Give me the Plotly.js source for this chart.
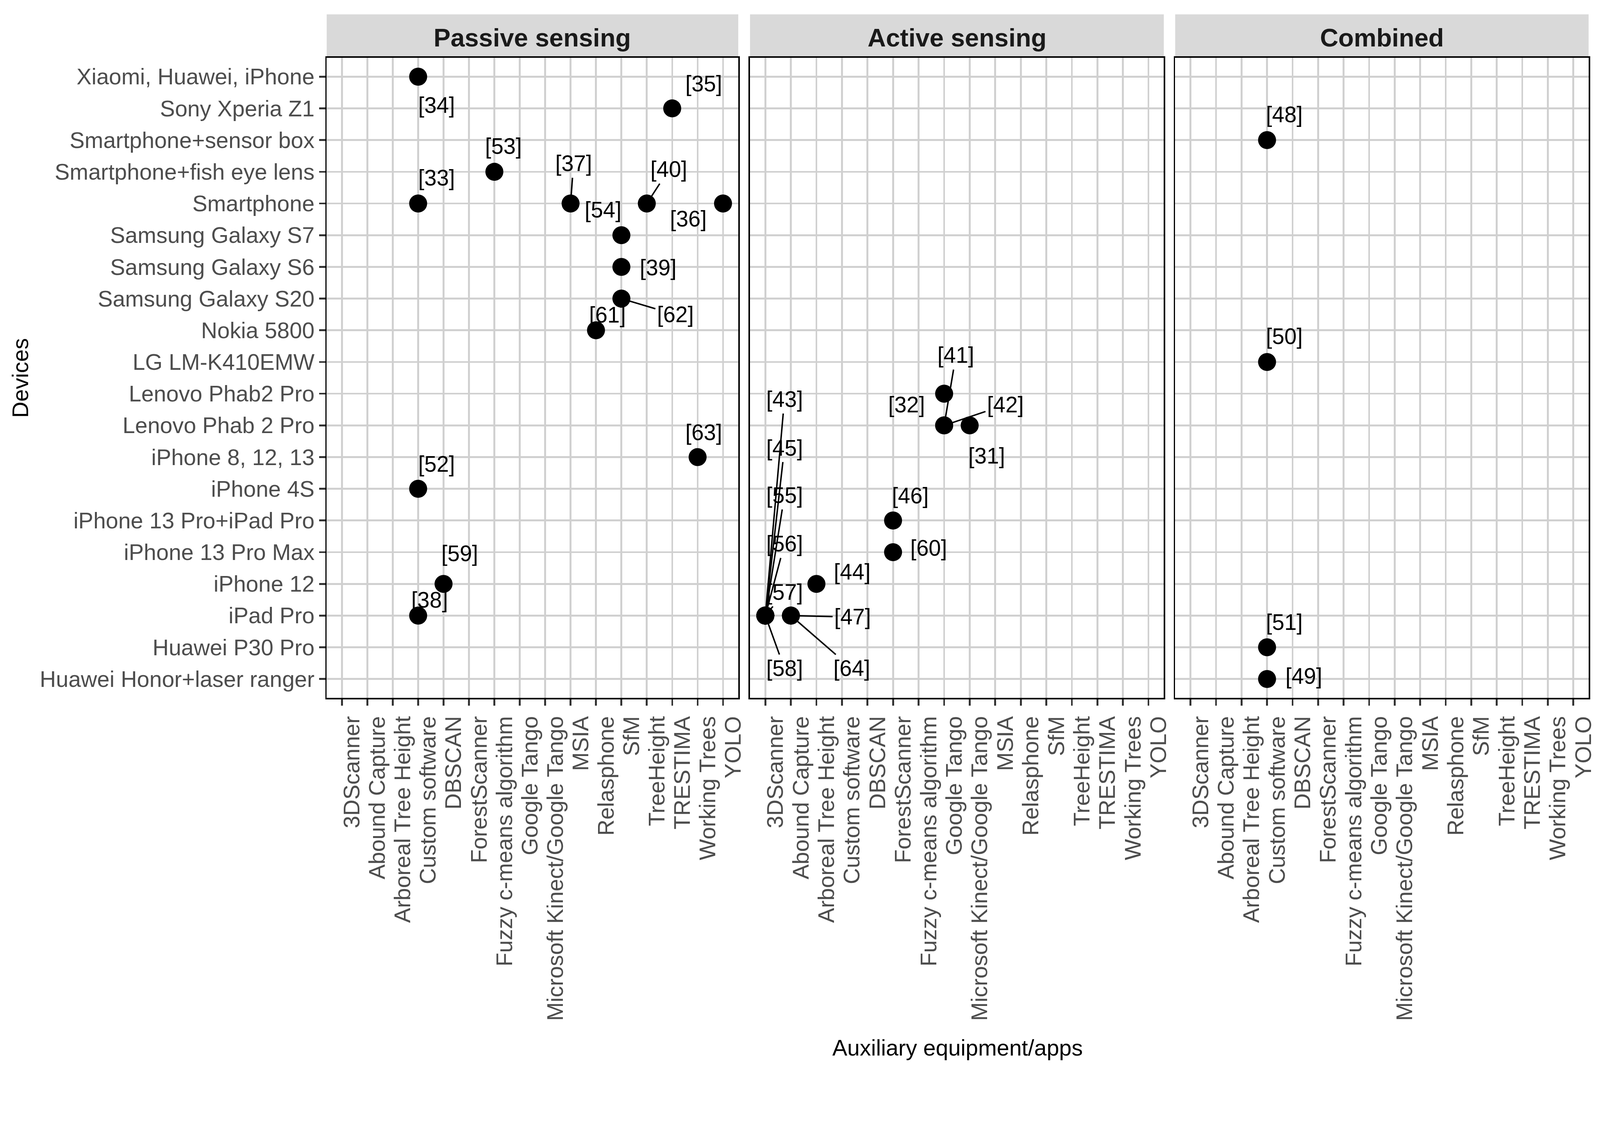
<!DOCTYPE html>
<html>
<head>
<meta charset="utf-8">
<script src="https://cdn.plot.ly/plotly-3.0.1.min.js"></script>
<style>html,body{margin:0;padding:0;background:#fff;overflow:hidden;}#wrap{width:4354px;height:2909px;transform-origin:0 0;}#chart{width:4354px;height:2909px;}</style>
</head>
<body>
<div id="wrap"><div id="chart"></div></div>
<script>
// ---------- categories ----------
const appCategories = ["3DScanner","Abound Capture","Arboreal Tree Height","Custom software","DBSCAN","ForestScanner","Fuzzy c-means algorithm","Google Tango","Microsoft Kinect/Google Tango","MSIA","Relasphone","SfM","TreeHeight","TRESTIMA","Working Trees","YOLO"];
const deviceCategories = ["Huawei Honor+laser ranger","Huawei P30 Pro","iPad Pro","iPhone 12","iPhone 13 Pro Max","iPhone 13 Pro+iPad Pro","iPhone 4S","iPhone 8, 12, 13","Lenovo Phab 2 Pro","Lenovo Phab2 Pro","LG LM-K410EMW","Nokia 5800","Samsung Galaxy S20","Samsung Galaxy S6","Samsung Galaxy S7","Smartphone","Smartphone+fish eye lens","Smartphone+sensor box","Sony Xperia Z1","Xiaomi, Huawei, iPhone"];
const panelTitles = ["Passive sensing","Active sensing","Combined"];

// ---------- passive sensing ----------
const passiveApps = ["Custom software","TRESTIMA","Fuzzy c-means algorithm","Custom software","MSIA","TreeHeight","YOLO","SfM","SfM","SfM","Relasphone","Working Trees","Custom software","DBSCAN","Custom software"];
const passiveDevices = ["Xiaomi, Huawei, iPhone","Sony Xperia Z1","Smartphone+fish eye lens","Smartphone","Smartphone","Smartphone","Smartphone","Samsung Galaxy S7","Samsung Galaxy S6","Samsung Galaxy S20","Nokia 5800","iPhone 8, 12, 13","iPhone 4S","iPhone 12","iPad Pro"];
const passiveRefs = ["[34]","[35]","[53]","[33]","[37]","[40]","[36]","[54]","[39]","[62]","[61]","[63]","[52]","[59]","[38]"];

// ---------- active sensing ----------
const activeApps = ["Google Tango","Google Tango","Google Tango","Microsoft Kinect/Google Tango","ForestScanner","ForestScanner","Arboreal Tree Height","3DScanner","3DScanner","3DScanner","3DScanner","3DScanner","3DScanner","Abound Capture","Abound Capture"];
const activeDevices = ["Lenovo Phab2 Pro","Lenovo Phab 2 Pro","Lenovo Phab 2 Pro","Lenovo Phab 2 Pro","iPhone 13 Pro+iPad Pro","iPhone 13 Pro Max","iPhone 12","iPad Pro","iPad Pro","iPad Pro","iPad Pro","iPad Pro","iPad Pro","iPad Pro","iPad Pro"];
const activeRefs = ["[32]","[41]","[42]","[31]","[46]","[60]","[44]","[43]","[45]","[55]","[56]","[57]","[58]","[47]","[64]"];

// ---------- combined ----------
const combinedApps = ["Custom software","Custom software","Custom software","Custom software"];
const combinedDevices = ["Smartphone+sensor box","LG LM-K410EMW","Huawei P30 Pro","Huawei Honor+laser ranger"];
const combinedRefs = ["[48]","[50]","[51]","[49]"];

// ---------- label placement (pixel offsets from the point, and leader-line flag) ----------
const passiveLabelDx = [50,86,25,50,8,60,-95,-50,100,147,31,17,50,44,31];
const passiveLabelDy = [78,-67,-69,-69,-108,-92,43,-69,2,44,-42,-67,-67,-83,-42];
const passiveLabelLine = [0,0,0,0,1,1,0,0,0,1,0,0,0,0,0];
const activeLabelDx = [-102,32,167,46,47,97,97,52,52,52,52,52,52,168,166];
const activeLabelDy = [30,-190,-56,84,-67,-11,-33,-588,-456,-327,-195,-63,144,4,144];
const activeLabelLine = [0,1,1,0,0,0,0,1,1,1,1,1,1,1,1];
const combinedLabelDx = [47,47,47,100];
const combinedLabelDy = [-69,-69,-67,-8];
const combinedLabelLine = [0,0,0,0];

// fit the 4354x2909 drawing to the actual viewport
(function () {
  const s = Math.min(window.innerWidth / 4354, window.innerHeight / 2909);
  if (isFinite(s) && s > 0 && Math.abs(s - 1) > 0.002) {
    document.getElementById("wrap").style.transform = "scale(" + s + ")";
  }
})();

const FONT = "Liberation Sans, Arial, sans-serif";
const panels = [
  {apps: passiveApps, devs: passiveDevices, refs: passiveRefs, dx: passiveLabelDx, dy: passiveLabelDy, line: passiveLabelLine},
  {apps: activeApps, devs: activeDevices, refs: activeRefs, dx: activeLabelDx, dy: activeLabelDy, line: activeLabelLine},
  {apps: combinedApps, devs: combinedDevices, refs: combinedRefs, dx: combinedLabelDx, dy: combinedLabelDy, line: combinedLabelLine}
];
const domains = [[0, 0.32615], [0.33547, 0.66337], [0.67239, 1]];

const traces = [];
const annotations = [];
const shapes = [];
const layout = {
  width: 4354, height: 2909,
  margin: {l: 889, r: 31, t: 157, b: 1009},
  paper_bgcolor: "#ffffff", plot_bgcolor: "#ffffff",
  showlegend: false,
  font: {family: FONT, color: "#000000"}
};

panels.forEach((p, i) => {
  const sfx = i === 0 ? "" : String(i + 1);
  traces.push({
    type: "scatter", mode: "markers",
    x: p.apps, y: p.devs,
    xaxis: "x" + sfx, yaxis: "y" + sfx,
    marker: {size: 49, color: "#000000"},
    hoverinfo: "skip", cliponaxis: false
  });
  layout["xaxis" + sfx] = {
    domain: domains[i], anchor: "y" + sfx,
    type: "category", categoryorder: "array", categoryarray: appCategories,
    range: [-0.6, appCategories.length - 0.4],
    tickmode: "array", tickvals: appCategories, ticktext: appCategories,
    tickangle: -90, tickfont: {size: 61, color: "#4d4d4d", family: FONT},
    ticklabelshift: 28, ticklabelstandoff: 4,
    ticks: "outside", ticklen: 17, tickwidth: 5, tickcolor: "#333333",
    showgrid: true, gridcolor: "#d0d0d0", gridwidth: 5,
    showline: true, mirror: true, linecolor: "#000000", linewidth: 4,
    zeroline: false, fixedrange: true
  };
  layout["yaxis" + sfx] = {
    domain: [0, 1], anchor: "x" + sfx,
    type: "category", categoryorder: "array", categoryarray: deviceCategories,
    range: [-0.6, deviceCategories.length - 0.4],
    showticklabels: i === 0,
    tickfont: {size: 61, color: "#4d4d4d", family: FONT},
    ticks: i === 0 ? "outside" : "", ticklen: 17, tickwidth: 5, tickcolor: "#333333",
    showgrid: true, gridcolor: "#d0d0d0", gridwidth: 5,
    showline: true, mirror: true, linecolor: "#000000", linewidth: 4,
    zeroline: false, fixedrange: true
  };
  // strip
  shapes.push({type: "rect", xref: "paper", yref: "paper", x0: domains[i][0], x1: domains[i][1], y0: 1.0012, y1: 1.0677, fillcolor: "#d9d9d9", line: {width: 0}, layer: "below"});
  annotations.push({xref: "paper", yref: "paper", x: (domains[i][0] + domains[i][1]) / 2, y: 1.0315, xanchor: "center", yanchor: "middle", text: "<b>" + panelTitles[i] + "</b>", showarrow: false, font: {size: 69, color: "#1a1a1a", family: FONT}});
  // point labels
  p.refs.forEach((r, k) => {
    const a = {xref: "x" + sfx, yref: "y" + sfx, x: p.apps[k], y: p.devs[k], text: r, font: {size: 60, color: "#000000", family: FONT}};
    if (p.line[k]) {
      Object.assign(a, {showarrow: true, arrowhead: 0, arrowwidth: 4, arrowcolor: "#000000", ax: p.dx[k], ay: p.dy[k], standoff: 18, borderpad: 4});
    } else {
      Object.assign(a, {showarrow: false, xanchor: "center", yanchor: "middle", xshift: p.dx[k], yshift: -p.dy[k]});
    }
    annotations.push(a);
  });
});

annotations.push({xref: "paper", yref: "paper", x: 0.5, y: -0.5462, xanchor: "center", yanchor: "middle", text: "Auxiliary equipment/apps", showarrow: false, font: {size: 61, color: "#000000", family: FONT}});
annotations.push({xref: "paper", yref: "paper", x: -0.2429, y: 0.5, xanchor: "center", yanchor: "middle", textangle: -90, text: "Devices", showarrow: false, font: {size: 61, color: "#000000", family: FONT}});

layout.annotations = annotations;
layout.shapes = shapes;

Plotly.newPlot("chart", traces, layout, {staticPlot: true, displayModeBar: false});
</script>
</body>
</html>
